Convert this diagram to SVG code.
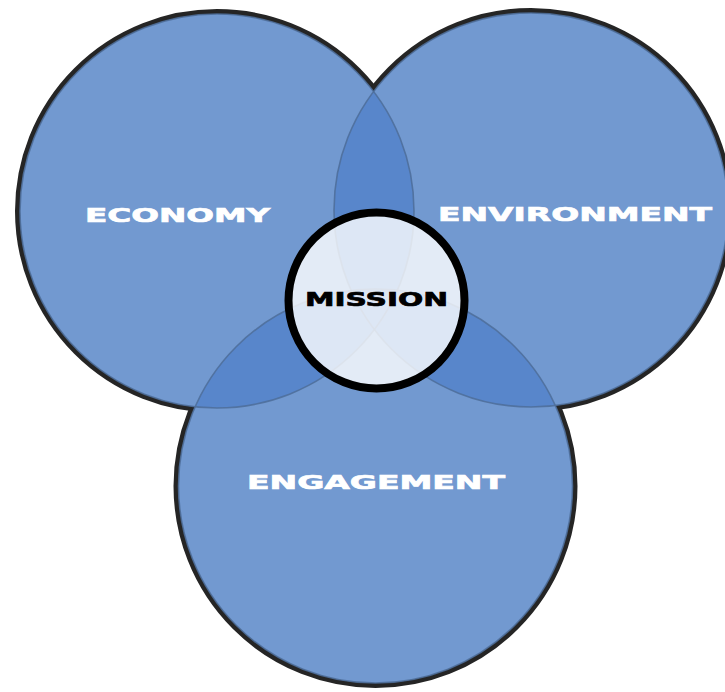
<svg xmlns="http://www.w3.org/2000/svg" width="725" height="692" viewBox="0 0 725 692">
  <style>
    .edge { fill: none; stroke: #252525; stroke-width: 10; }
    .fill { fill: #7299d0; }
    .lap { fill: #5886cb; }
    .arc { fill: none; stroke: #4e6d99; stroke-width: 1.6; stroke-opacity: 0.85; }
    .lbl { font-family: "DejaVu Sans", "Liberation Sans", Arial, sans-serif; font-weight: bold; font-size: 20px; fill: #ffffff; stroke: #ffffff; stroke-width: 0.7; }
    .mlbl { font-family: "DejaVu Sans", "Liberation Sans", Arial, sans-serif; font-weight: bold; font-size: 20px; fill: #000000; stroke: #000000; stroke-width: 0.7; }
  </style>
  <defs>
    <clipPath id="clipEco"><circle cx="217" cy="211" r="197"/></clipPath>
    <clipPath id="clipEnv"><circle cx="531" cy="210" r="197"/></clipPath>
    <clipPath id="clipEng"><circle cx="375.5" cy="486" r="197"/></clipPath>
  </defs>
  <rect width="725" height="692" fill="#ffffff"/>

  <g id="outlines">
    <circle class="edge" cx="217" cy="211" r="197"/>
    <circle class="edge" cx="531" cy="210" r="197"/>
    <circle class="edge" cx="375.5" cy="486" r="197"/>
  </g>

  <g id="economy">
    <circle class="fill" cx="217" cy="211" r="197"/>
  </g>
  <g id="environment">
    <circle class="fill" cx="531" cy="210" r="197"/>
  </g>
  <g id="engagement">
    <circle class="fill" cx="375.5" cy="486" r="197"/>
  </g>

  <g id="overlaps">
    <circle class="lap" cx="531" cy="210" r="197" clip-path="url(#clipEco)"/>
    <circle class="lap" cx="375.5" cy="486" r="197" clip-path="url(#clipEco)"/>
    <circle class="lap" cx="375.5" cy="486" r="197" clip-path="url(#clipEnv)"/>
  </g>

  <g id="inner-arcs">
    <circle class="arc" cx="217" cy="211" r="197"/>
    <circle class="arc" cx="531" cy="210" r="197"/>
    <circle class="arc" cx="375.5" cy="486" r="197"/>
  </g>

  <g id="labels">
    <text class="lbl" x="85" y="222" textLength="185" lengthAdjust="spacingAndGlyphs">ECONOMY</text>
    <text class="lbl" x="438" y="221" textLength="274" lengthAdjust="spacingAndGlyphs">ENVIRONMENT</text>
    <text class="lbl" x="247" y="489" textLength="258" lengthAdjust="spacingAndGlyphs">ENGAGEMENT</text>
  </g>

  <g id="mission">
    <circle cx="376.5" cy="300.5" r="88" fill="#ffffff" fill-opacity="0.8" stroke="#000000" stroke-width="8"/>
    <text class="mlbl" x="305" y="306" textLength="143" lengthAdjust="spacingAndGlyphs">MISSION</text>
  </g>
</svg>
